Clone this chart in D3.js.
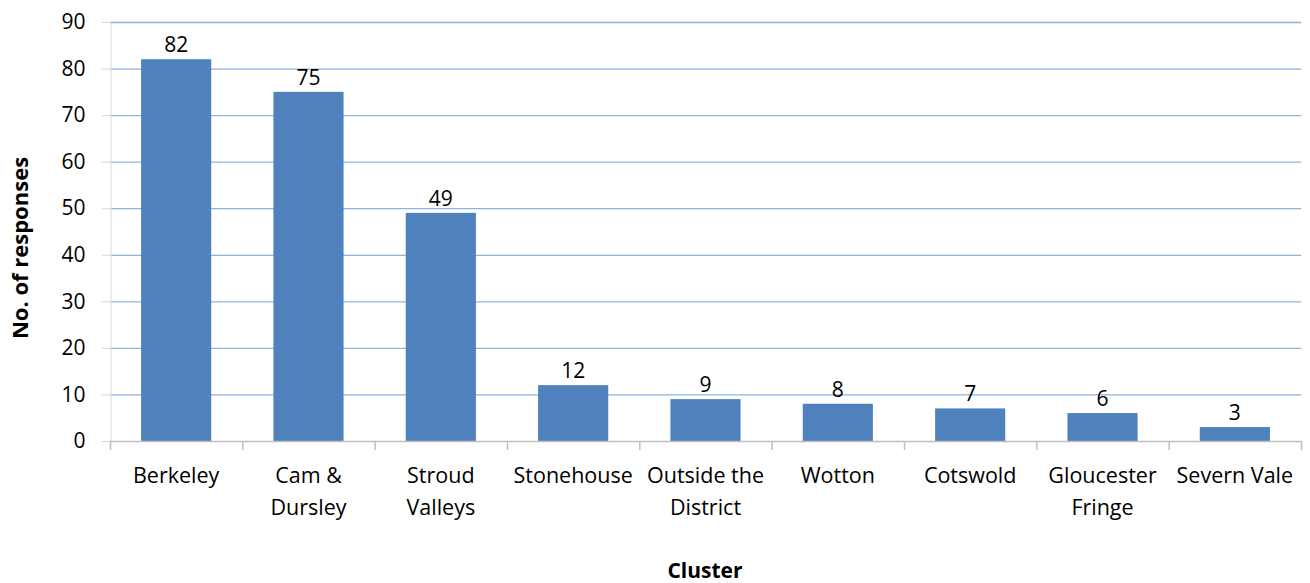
<!DOCTYPE html>
<html>
<head>
<meta charset="utf-8">
<script src="https://cdn.jsdelivr.net/npm/d3@7"></script>
<style>
  body { margin: 0; background: #fff; }
  svg { font-family: "Open Sans", sans-serif; }
</style>
</head>
<body>
<svg id="chart" width="1310" height="583"></svg>
<script>
var clusters = ["Berkeley", "Cam & Dursley", "Stroud Valleys", "Stonehouse", "Outside the District", "Wotton", "Cotswold", "Gloucester Fringe", "Severn Vale"]
var labelLines = [["Berkeley"], ["Cam &", "Dursley"], ["Stroud", "Valleys"], ["Stonehouse"], ["Outside the", "District"], ["Wotton"], ["Cotswold"], ["Gloucester", "Fringe"], ["Severn Vale"]]
var responses = [82, 75, 49, 12, 9, 8, 7, 6, 3]
var yTicks = [0, 10, 20, 30, 40, 50, 60, 70, 80, 90]

var svg = d3.select('svg#chart')
var margin = {left: 110, right: 9, top: 22, bottom: 142}
var width = 1310, height = 583

var x = d3.scaleBand()
    .domain(clusters)
    .range([margin.left, width - margin.right])
    .paddingInner(0.47)
    .paddingOuter(0.235)
var xEdge = d3.scaleBand()
    .domain(clusters)
    .range([margin.left, width - margin.right])
var y = d3.scaleLinear()
    .domain([0, 90])
    .range([height - margin.bottom, margin.top])

// gridlines
svg.append("g")
  .selectAll("line")
  .data(yTicks.filter(d => d > 0))
  .enter().append("line")
    .attr("x1", margin.left)
    .attr("x2", width - margin.right)
    .attr("y1", d => y(d) + 0.5)
    .attr("y2", d => y(d) + 0.5)
    .attr("stroke", "#8db3e2")
    .attr("stroke-width", 1.3)

// y axis
var yAxis = g => g
    .attr("transform", `translate(${margin.left + 0.5},0)`)
    .call(d3.axisLeft(y).tickValues(yTicks).tickSize(9).tickPadding(16).tickSizeOuter(0))
    .call(g => g.select(".domain").attr("stroke", "#d9d9d9"))
    .call(g => g.selectAll(".tick line").attr("stroke", "#d9d9d9"))
    .call(g => g.selectAll(".tick text").attr("font-size", 21).attr("fill", "#000").attr("font-family", "Open Sans"))
svg.append("g").call(yAxis)

// bars
svg.append("g")
    .attr("fill", "#4f81bd")
  .selectAll("rect")
  .data(responses)
  .enter().append("rect")
    .attr("x", (d, i) => x(clusters[i]))
    .attr("y", d => y(d))
    .attr("width", x.bandwidth())
    .attr("height", d => y(0) - y(d))

// value labels
svg.append("g")
  .selectAll("text")
  .data(responses)
  .enter().append("text")
    .attr("x", (d, i) => x(clusters[i]) + x.bandwidth() / 2)
    .attr("y", d => y(d) - 7)
    .attr("text-anchor", "middle")
    .attr("font-size", 21)
    .text(d => d)

// x axis
var xg = svg.append("g")
xg.append("line")
    .attr("x1", margin.left)
    .attr("x2", width - margin.right)
    .attr("y1", y(0) + 0.5)
    .attr("y2", y(0) + 0.5)
    .attr("stroke", "#bfbfbf")
    .attr("stroke-width", 1.5)
var edges = clusters.map(c => xEdge(c)).concat([width - margin.right])
xg.selectAll("line.tick")
  .data(edges)
  .enter().append("line")
    .attr("class", "tick")
    .attr("x1", d => d + 0.5)
    .attr("x2", d => d + 0.5)
    .attr("y1", y(0))
    .attr("y2", y(0) + 9)
    .attr("stroke", "#bfbfbf")
    .attr("stroke-width", 1.5)

var lab = xg.selectAll("text.cat")
  .data(labelLines)
  .enter().append("text")
    .attr("class", "cat")
    .attr("text-anchor", "middle")
    .attr("font-size", 21.5)
    .attr("transform", (d, i) => `translate(${xEdge(clusters[i]) + xEdge.bandwidth() / 2},483)`)
lab.selectAll("tspan")
  .data(d => d)
  .enter().append("tspan")
    .attr("x", 0)
    .attr("y", (d, i) => i * 32)
    .text(d => d)

// axis titles
svg.append("text")
    .attr("transform", `translate(28,248) rotate(-90)`)
    .attr("text-anchor", "middle")
    .attr("font-size", 22)
    .attr("font-weight", "bold")
    .text("No. of responses")

svg.append("text")
    .attr("x", 705)
    .attr("y", 578)
    .attr("text-anchor", "middle")
    .attr("font-size", 21)
    .attr("font-weight", "bold")
    .text("Cluster")
</script>
</body>
</html>
